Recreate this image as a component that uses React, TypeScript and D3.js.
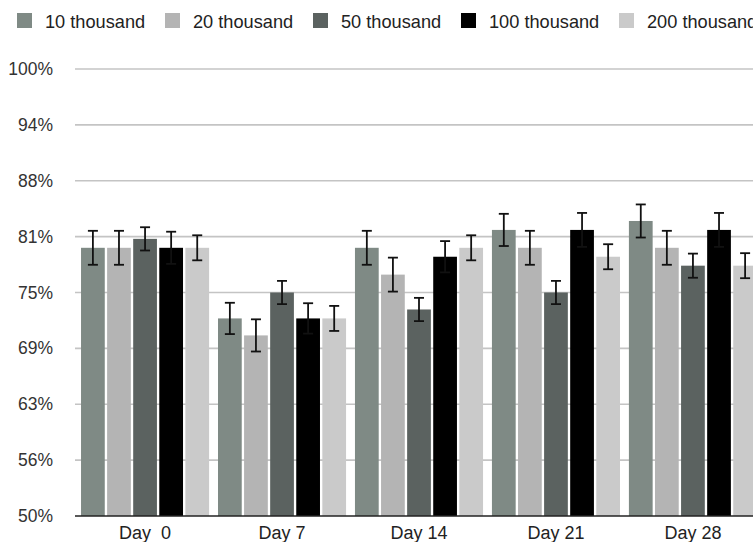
import React from "react";
import * as d3 from "d3";

const days = ["Day  0", "Day 7", "Day 14", "Day 21", "Day 28"];
const seriesNames = ["10 thousand", "20 thousand", "50 thousand", "100 thousand", "200 thousand"];
const seriesColors = ["#7f8a85", "#b4b4b4", "#5b6260", "#000000", "#cacaca"];

const values10k = [80, 72.1, 80, 82, 83];
const values20k = [80, 70.2, 77, 80, 80];
const values50k = [81, 75, 73.1, 75, 78];
const values100k = [80, 72.1, 79, 82, 82];
const values200k = [80, 72.1, 80, 79, 78];

const err10k = [1.9, 1.75, 1.9, 1.8, 1.85];
const err20k = [1.9, 1.8, 1.9, 1.9, 1.9];
const err50k = [1.3, 1.3, 1.3, 1.3, 1.35];
const err100k = [1.8, 1.7, 1.75, 1.9, 1.9];
const err200k = [1.4, 1.4, 1.4, 1.4, 1.4];

const yTicks = [50, 56.25, 62.5, 68.75, 75, 81.25, 87.5, 93.75, 100];
const yTickLabels = ["50%", "56%", "63%", "69%", "75%", "81%", "88%", "94%", "100%"];

const allValues = [values10k, values20k, values50k, values100k, values200k];
const allErrors = [err10k, err20k, err50k, err100k, err200k];

const W = 753;
const H = 542;
const plotLeft = 75;
const plotRight = 763;
const yBottom = 516;
const yTop = 69;
const legendX = [17, 165, 313, 461, 619];
const font = "'Liberation Sans', Arial, Helvetica, sans-serif";

export default function App() {
  const y = d3.scaleLinear().domain([50, 100]).range([yBottom, yTop]);
  const x0 = d3
    .scaleBand<string>()
    .domain(days)
    .range([plotLeft, plotRight])
    .paddingInner(0.065)
    .paddingOuter(0.044);
  const x1 = d3
    .scaleBand<string>()
    .domain(seriesNames)
    .range([0, x0.bandwidth()])
    .paddingInner(0.09)
    .paddingOuter(0);
  const bw = x1.bandwidth();
  const capW = 10;

  return (
    <svg
      width={W}
      height={H}
      style={{ position: "absolute", left: 0, top: 0, background: "#fff" }}
      fontFamily={font}
    >
      {/* legend */}
      {seriesNames.map((s, i) => (
        <g key={s} transform={`translate(${legendX[i]},0)`}>
          <rect x={0} y={13} width={15} height={15} fill={seriesColors[i]} />
          <text x={28} y={28} fontSize={18.2} fill="#222">
            {s}
          </text>
        </g>
      ))}

      {/* gridlines */}
      {yTicks.slice(1).map((t) => (
        <line
          key={t}
          x1={plotLeft}
          x2={W}
          y1={y(t)}
          y2={y(t)}
          stroke="#c4c4c4"
          strokeWidth={1.6}
        />
      ))}

      {/* y labels */}
      {yTicks.map((t, i) => (
        <text
          key={t}
          x={53}
          y={y(t)}
          textAnchor="end"
          dominantBaseline="central"
          fontSize={17.5}
          fill="#333"
        >
          {yTickLabels[i]}
        </text>
      ))}

      {/* bars */}
      {days.map((d, di) => (
        <g key={d} transform={`translate(${x0(d)},0)`}>
          {seriesNames.map((s, si) => {
            const v = allValues[si][di];
            const bx = x1(s) as number;
            return (
              <rect
                key={s}
                x={bx}
                y={y(v)}
                width={bw}
                height={y(50) - y(v)}
                fill={seriesColors[si]}
              />
            );
          })}
          {seriesNames.map((s, si) => {
            const v = allValues[si][di];
            const e = allErrors[si][di];
            const cx = (x1(s) as number) + bw / 2;
            return (
              <g key={s + "e"} stroke="#111" strokeWidth={1.8}>
                <line x1={cx} x2={cx} y1={y(v + e)} y2={y(v - e)} />
                <line x1={cx - capW / 2} x2={cx + capW / 2} y1={y(v + e)} y2={y(v + e)} />
                <line x1={cx - capW / 2} x2={cx + capW / 2} y1={y(v - e)} y2={y(v - e)} />
              </g>
            );
          })}
        </g>
      ))}

      {/* baseline */}
      <line x1={plotLeft} x2={W} y1={yBottom} y2={yBottom} stroke="#222" strokeWidth={1.6} />

      {/* x labels */}
      {days.map((d) => (
        <text
          key={d}
          x={(x0(d) as number) + x0.bandwidth() / 2}
          y={539}
          textAnchor="middle"
          fontSize={18}
          fill="#222"
          style={{ whiteSpace: "pre" }}
        >
          {d}
        </text>
      ))}
    </svg>
  );
}
